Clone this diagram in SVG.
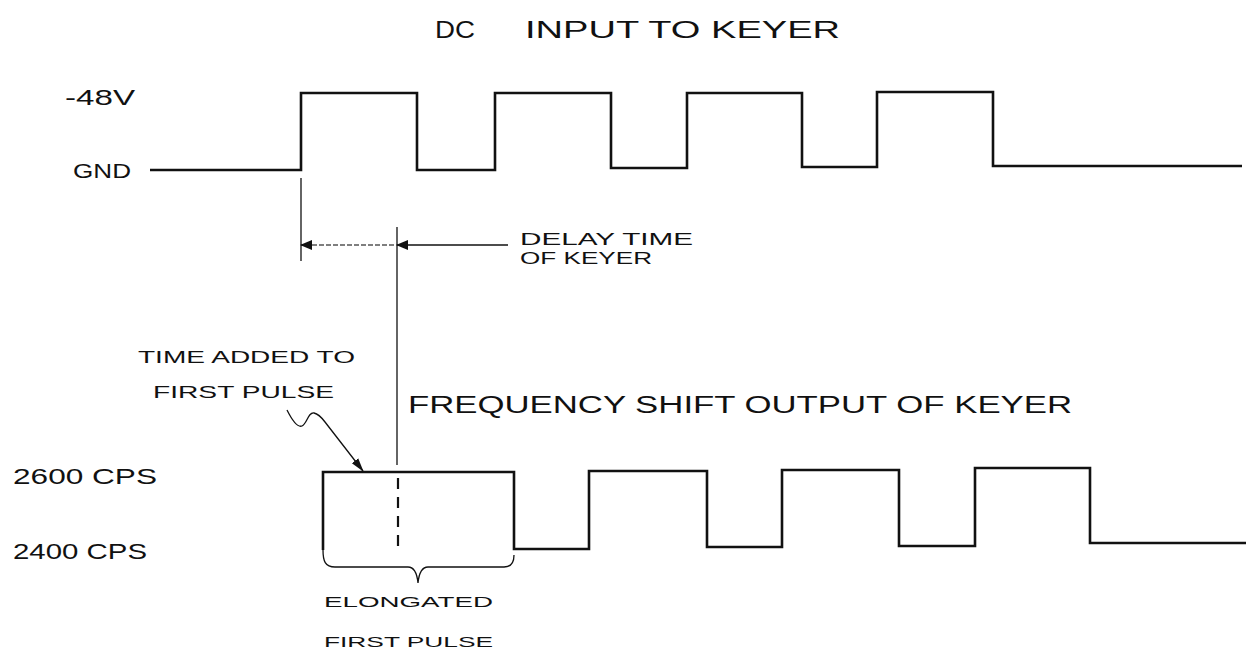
<svg xmlns="http://www.w3.org/2000/svg" width="1249" height="656" viewBox="0 0 1249 656">
<style>
text{font-family:"Liberation Sans",Arial,sans-serif;fill:#111;}
.wave{fill:none;stroke:#111;stroke-width:2.6;stroke-linejoin:miter;}
.thin{fill:none;stroke:#111;stroke-width:1.3;}
.dash{fill:none;stroke:#111;stroke-width:2.2;stroke-dasharray:11 8;}
.dot{fill:none;stroke:#555;stroke-width:1.3;stroke-dasharray:5 2;}
</style>
<defs>
<marker id="ah" markerWidth="12" markerHeight="10" refX="1" refY="5" orient="auto" markerUnits="userSpaceOnUse">
<path d="M12,0 L0,5 L12,10 Z" fill="#111"/>
</marker>
<marker id="ah2" markerWidth="14" markerHeight="10" refX="13" refY="5" orient="auto" markerUnits="userSpaceOnUse">
<path d="M0,1 L14,5 L0,9 Z" fill="#111"/>
</marker>
</defs>
<rect width="1249" height="656" fill="#fff"/>

<g id="titles">
<text x="435" y="38" font-size="24" textLength="40" lengthAdjust="spacingAndGlyphs">DC</text>
<text x="525" y="38" font-size="24" textLength="315" lengthAdjust="spacingAndGlyphs">INPUT TO KEYER</text>
<text x="408" y="413" font-size="23" textLength="664" lengthAdjust="spacingAndGlyphs">FREQUENCY SHIFT OUTPUT OF KEYER</text>
</g>

<g id="dc-labels">
<text x="65" y="105" font-size="22" textLength="70" lengthAdjust="spacingAndGlyphs">-48V</text>
<text x="73" y="178" font-size="20" textLength="58" lengthAdjust="spacingAndGlyphs">GND</text>
</g>

<g id="dc-wave">
<path class="wave" d="M150,170 H301 V93 H417 V170 H495 V93 H611 V168 H687 V93 H802 V167 H877 V92 H993 V166 H1242"/>
</g>

<g id="fsk-labels">
<text x="13" y="484" font-size="22" textLength="144" lengthAdjust="spacingAndGlyphs">2600 CPS</text>
<text x="13" y="559" font-size="22" textLength="134" lengthAdjust="spacingAndGlyphs">2400 CPS</text>
</g>

<g id="fsk-wave">
<path class="wave" d="M323,550 V472 H514 V549 H589 V471 H707 V547 H782 V470 H899 V546 H975 V468 H1090 V543 H1246"/>
<path class="dash" d="M398,478 V552"/>
</g>

<g id="delay-annotation">
<text x="520" y="245" font-size="17" textLength="173" lengthAdjust="spacingAndGlyphs">DELAY TIME</text>
<text x="520" y="264" font-size="17" textLength="132" lengthAdjust="spacingAndGlyphs">OF KEYER</text>
</g>

<g id="added-annotation">
<text x="138" y="363" font-size="17" textLength="217" lengthAdjust="spacingAndGlyphs">TIME ADDED TO</text>
<text x="153" y="398" font-size="17" textLength="181" lengthAdjust="spacingAndGlyphs">FIRST PULSE</text>
</g>

<g id="elongated-annotation">
<text x="324" y="607" font-size="15" textLength="169" lengthAdjust="spacingAndGlyphs">ELONGATED</text>
<text x="324" y="647" font-size="15" textLength="169" lengthAdjust="spacingAndGlyphs">FIRST PULSE</text>
</g>

<g id="connectors">
<path class="thin" d="M301,178 V261"/>
<path class="thin" d="M397,227 V465"/>
<path class="dot" d="M312,245 H397"/>
<path class="thin" d="M397,245 H508" marker-start="url(#ah)"/>
<path class="thin" d="M301,245 H312" marker-start="url(#ah)"/>
<path class="thin" d="M287,410 C292,420 297,428 302,426 C307,424 308,412 314,413 C319,414 322,418 325,422 L363,471" marker-end="url(#ah2)"/>
<path class="thin" d="M323,550 C323,561 325,567 335,567 H408 C414,567 417,573 418,583 C419,573 422,567 428,567 H504 C511,567 514,562 514,555"/>
</g>
</svg>
